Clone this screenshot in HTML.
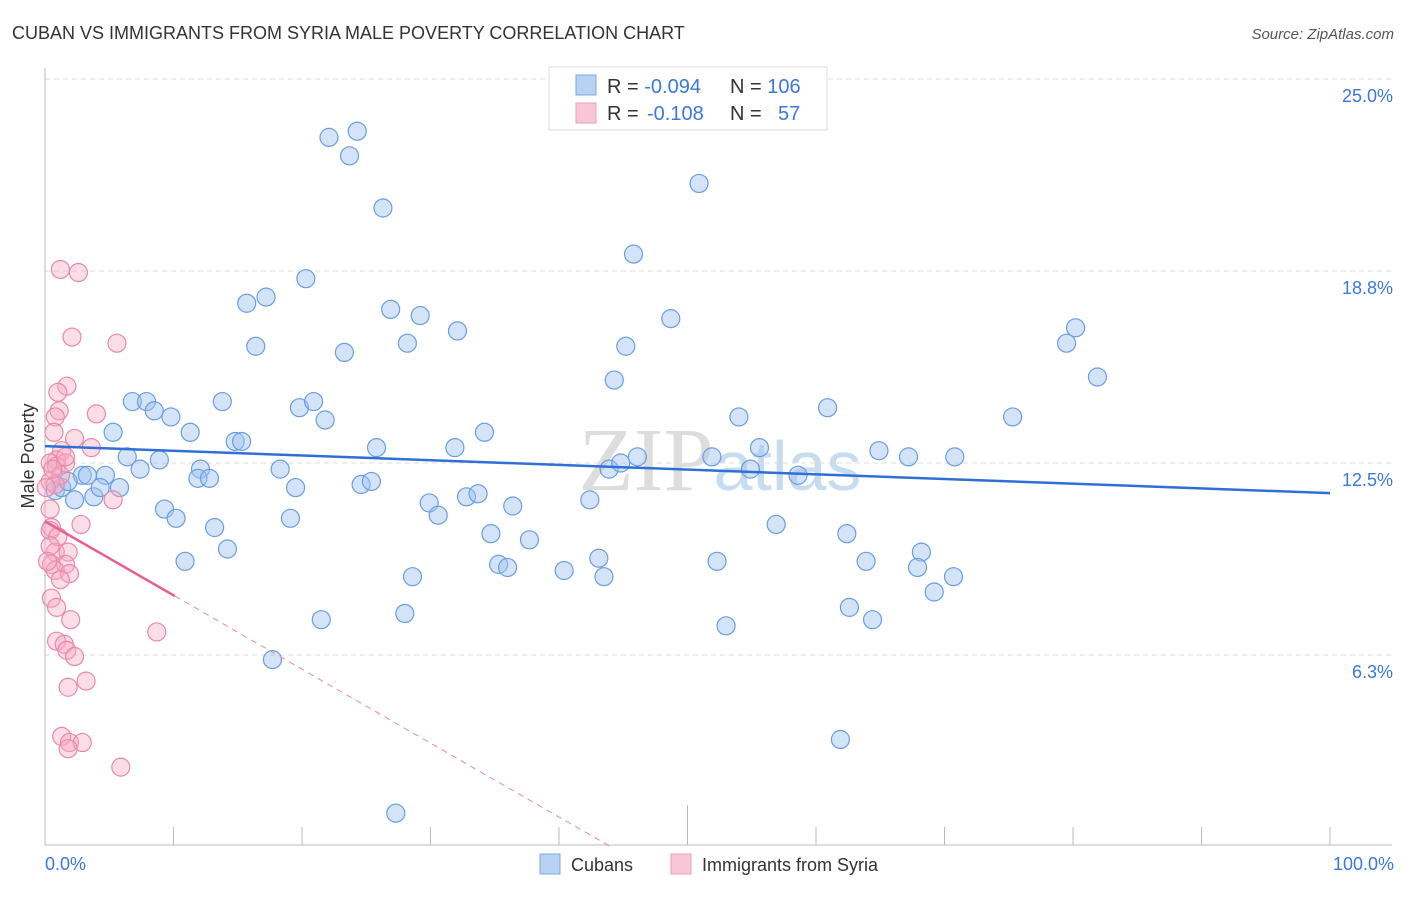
<!DOCTYPE html>
<html><head><meta charset="utf-8"><style>
body{margin:0;background:#fff;font-family:"Liberation Sans",sans-serif}
</style></head><body>
<svg id="chart" width="1406" height="892" xmlns="http://www.w3.org/2000/svg" font-family="Liberation Sans, sans-serif">
<text x="12" y="39" font-size="18" fill="#333">CUBAN VS IMMIGRANTS FROM SYRIA MALE POVERTY CORRELATION CHART</text>
<text x="1394" y="39" font-size="15" fill="#555" font-style="italic" text-anchor="end">Source: ZipAtlas.com</text>
<text x="720" y="490" font-size="90" fill="#ddd" text-anchor="middle" font-family="Liberation Serif, serif">ZIP<tspan fill="#c8dcf0" font-family="Liberation Sans, sans-serif" font-size="70">atlas</tspan></text>
<g id="grid"></g><g id="axes"></g><g id="pts"></g><g id="trend"></g>
<text transform="translate(34,456) rotate(-90)" font-size="18" fill="#333" text-anchor="middle">Male Poverty</text>
<text x="45" y="870" font-size="18" fill="#3b78d8">0.0%</text>
<text x="1394" y="870" font-size="18" fill="#3b78d8" text-anchor="end">100.0%</text>
<g>
<rect x="549" y="67" width="278" height="63" fill="#fff" stroke="#ddd"/>
<rect x="576" y="75" width="20" height="20" fill="#b8d2f4" stroke="#7aa8e6"/>
<rect x="576" y="103" width="20" height="20" fill="#f9c6d6" stroke="#eba0b8"/>
<text x="607" y="93" font-size="20" fill="#333">R = <tspan fill="#3b78d8">-0.094</tspan><tspan x="730">N = </tspan><tspan fill="#3b78d8">106</tspan></text>
<text x="607" y="120" font-size="20" fill="#333">R = <tspan fill="#3b78d8" x="647">-0.108</tspan><tspan x="730">N = </tspan><tspan fill="#3b78d8" x="778">57</tspan></text>
</g>
<g>
<rect x="540" y="854" width="20" height="20" fill="#b8d2f4" stroke="#7aa8e6"/>
<text x="571" y="871" font-size="18" fill="#333">Cubans</text>
<rect x="671" y="854" width="20" height="20" fill="#f9c6d6" stroke="#eba0b8"/>
<text x="702" y="871" font-size="18" fill="#333">Immigrants from Syria</text>
</g>
</svg>
<script>
const yTicks=[25,18.75,12.5,6.25];
const yTickLabels=["25.0%","18.8%","12.5%","6.3%"];
const xTicks=[0,10,20,30,40,50,60,70,80,90,100];
const cubanX=[22.1,24.3,23.7,26.3,50.9,45.8,20.3,17.2,15.7,26.9,29.2,32.1,48.7,80.2,79.5,16.4,28.2,23.3,45.2,44.3,81.9,6.8,7.9,8.5,9.8,13.8,19.8,20.9,21.8,5.3,11.3,14.8,15.3,25.8,31.9,34.2,54.0,60.9,75.3,55.6,64.9,67.2,70.8,6.4,8.9,7.4,2.9,4.7,3.3,12.1,18.3,11.9,12.8,43.9,44.8,46.1,51.9,54.9,58.6,24.6,25.4,19.5,0.8,1.3,1.8,2.3,3.8,4.3,5.8,29.9,32.8,33.7,36.4,42.4,9.3,10.2,19.1,13.2,30.6,34.7,37.7,56.9,62.4,14.2,10.9,35.3,36.0,40.4,43.1,43.5,52.3,63.9,68.2,67.9,70.7,69.2,28.6,21.5,28.0,53.0,62.6,64.4,17.7,61.9,27.3];
const cubanY=[23.1,23.3,22.5,20.8,21.6,19.3,18.5,17.9,17.7,17.5,17.3,16.8,17.2,16.9,16.4,16.3,16.4,16.1,16.3,15.2,15.3,14.5,14.5,14.2,14.0,14.5,14.3,14.5,13.9,13.5,13.5,13.2,13.2,13.0,13.0,13.5,14.0,14.3,14.0,13.0,12.9,12.7,12.7,12.7,12.6,12.3,12.1,12.1,12.1,12.3,12.3,12.0,12.0,12.3,12.5,12.7,12.7,12.3,12.1,11.8,11.9,11.7,11.6,11.7,11.9,11.3,11.4,11.7,11.7,11.2,11.4,11.5,11.1,11.3,11.0,10.7,10.7,10.4,10.8,10.2,10.0,10.5,10.2,9.7,9.3,9.2,9.1,9.0,9.4,8.8,9.3,9.3,9.6,9.1,8.8,8.3,8.8,7.4,7.6,7.2,7.8,7.4,6.1,3.5,1.1];
const syriaX=[1.2,2.6,2.1,5.6,1.7,1.0,1.1,4.0,0.8,0.7,2.3,3.6,1.3,0.9,0.4,0.9,1.2,1.6,0.4,0.8,5.3,2.8,0.5,0.4,0.8,1.8,1.6,0.5,0.8,1.9,0.5,0.9,2.0,0.9,1.5,1.7,2.3,3.2,1.8,8.7,1.3,1.9,2.9,1.8,5.9,1.0,0.4,0.6,0.1,1.2,0.2,1.6,0.4];
const syriaY=[18.8,18.7,16.6,16.4,15.0,14.8,14.2,14.1,14.0,13.5,13.3,13.0,12.9,12.6,12.5,12.4,12.1,12.5,11.9,11.8,11.3,10.5,10.4,10.3,9.6,9.6,9.2,9.2,9.0,8.9,8.1,7.8,7.4,6.7,6.6,6.4,6.2,5.4,5.2,7.0,3.6,3.4,3.4,3.2,2.6,10.1,9.8,12.3,11.7,8.7,9.3,12.7,11.0];
const cubanTrend=[13.05,11.52];
const syriaTrend=[10.6,8.17];
const syriaTrendEnd=10.1;

const NS="http://www.w3.org/2000/svg";
const X=v=>45+v*12.85, Y=v=>847-v*30.72;
function mk(tag,attrs,parent){const e=document.createElementNS(NS,tag);for(const k in attrs)e.setAttribute(k,attrs[k]);document.getElementById(parent).appendChild(e);return e;}
yTicks.forEach((t,i)=>{
 const g=mk('line',{x1:45,x2:1392,y1:Y(t),y2:Y(t),stroke:'#ddd','stroke-dasharray':'5,4'},'grid');
 
 
 const l=mk('text',{x:1393,y:Y(t)+23,'font-size':18,fill:'#3b78d8','text-anchor':'end'},'grid');
 l.textContent=yTickLabels[i];
 
 
});
const ya=mk('line',{x1:45,x2:45,y1:68,y2:845,stroke:'#bbb'},'axes');


const xa=mk('line',{x1:45,x2:1392,y1:845,y2:845,stroke:'#bbb'},'axes');


xTicks.forEach(t=>{
 const k=mk('line',{x1:X(t),x2:X(t),y1:845,y2:t===50?805:827,stroke:'#bbb'},'axes');
 
 
});
cubanX.forEach((v,i)=>{
 const c=mk('circle',{cx:X(v),cy:Y(cubanY[i]),r:9,fill:'rgba(160,196,240,0.45)',stroke:'#6a9de0','stroke-width':1.2},'pts');
 
 
});
syriaX.forEach((v,i)=>{
 const c=mk('circle',{cx:X(v),cy:Y(syriaY[i]),r:9,fill:'rgba(245,170,195,0.4)',stroke:'#e889a8','stroke-width':1.2},'pts');
 
 
});
const bt=mk('line',{x1:X(0),x2:X(100),y1:Y(cubanTrend[0]),y2:Y(cubanTrend[1]),stroke:'#2f6fd6','stroke-width':2.5},'trend');


const slope=(syriaTrend[1]-syriaTrend[0])/syriaTrendEnd;
const zeroX=-syriaTrend[0]/slope;
const pd=mk('line',{x1:X(syriaTrendEnd),x2:X(zeroX),y1:Y(syriaTrend[1]),y2:Y(0),stroke:'#e98aa8','stroke-width':1,'stroke-dasharray':'6,5'},'trend');


const pt=mk('line',{x1:X(0),x2:X(syriaTrendEnd),y1:Y(syriaTrend[0]),y2:Y(syriaTrend[1]),stroke:'#e8608e','stroke-width':2.5},'trend');


</script>
</body></html>
